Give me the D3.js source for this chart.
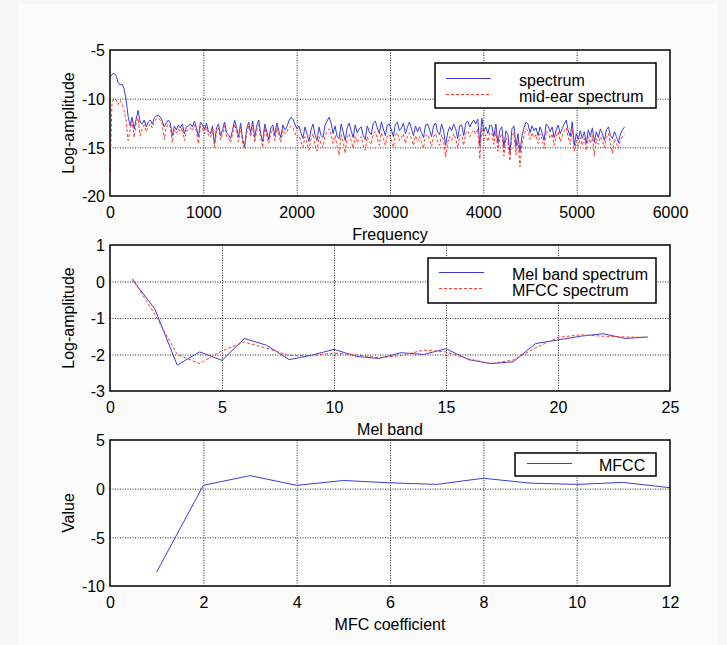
<!DOCTYPE html>
<html>
<head>
<meta charset="utf-8">
<script src="https://cdn.jsdelivr.net/npm/d3@7"></script>
<style>
  html, body { margin: 0; padding: 0; background: #f6f6f6; }
  svg { display: block; }
  text { font-family: "Liberation Sans", Arial, Helvetica, sans-serif; fill: #000; }
  .grid line { stroke: #222; stroke-width: 1; stroke-dasharray: 1,1.5; }
  .grid path { display: none; }
</style>
</head>
<body>
<svg id="fig" width="727" height="645"></svg>
<script>
// ---- Panel 1: spectrum and mid-ear spectrum (257 FFT bins, 0 .. 5512 Hz) ----
const fftBinHz = 11025 / 512;
const spectrum = [
  -7.8, -7.5, -7.4, -7.6, -8.3, -8.6, -8.5, -9.0, -10.1, -11.8,
  -12.8, -11.9, -13.1, -12.1, -11.2, -12.4, -12.6, -12.2, -12.9, -12.4,
  -12.2, -12.6, -12.0, -11.8, -11.7, -11.9, -12.3, -12.9, -12.5, -12.2,
  -12.5, -13.8, -12.8, -13.2, -12.7, -13.0, -12.6, -13.6, -12.9, -12.8,
  -12.6, -12.9, -12.3, -13.0, -13.9, -12.4, -12.7, -13.2, -12.5, -13.4,
  -13.6, -12.8, -14.6, -13.0, -12.6, -13.8, -13.2, -12.4, -13.5, -13.7,
  -14.1, -13.2, -12.2, -13.0, -13.9, -12.5, -14.2, -14.9, -13.1, -12.4,
  -13.5, -12.3, -14.0, -12.8, -12.2, -13.6, -14.4, -12.6, -13.4, -14.2,
  -13.0, -12.7, -13.8, -12.5, -13.3, -14.0, -12.7, -13.2, -12.9, -12.3,
  -11.9, -12.1, -12.6, -13.1, -12.8, -13.5, -14.1, -12.9, -13.6, -14.4,
  -13.2, -12.6, -13.7, -14.3, -12.9, -13.8, -14.0, -12.7, -12.3, -11.9,
  -12.5, -13.6, -12.8, -13.9, -14.1, -12.6, -13.4, -14.3, -13.0, -12.5,
  -13.3, -14.0, -12.7, -13.5, -13.1, -12.9, -13.8, -14.2, -12.8, -13.4,
  -13.7, -12.5, -12.3, -13.0, -13.6, -12.4, -13.1, -13.8, -12.7, -12.6,
  -13.2, -13.9, -12.6, -12.4, -13.3, -13.0, -12.5, -13.6, -12.9, -12.4,
  -13.1, -13.8, -12.8, -13.4, -12.9, -13.5, -14.0, -12.7, -12.6, -13.2,
  -13.9, -12.8, -12.5, -13.4, -13.7, -12.6, -13.3, -14.8, -13.5, -12.9,
  -13.3, -12.6, -13.1, -14.1, -12.8, -12.7, -13.8, -12.5, -12.3, -12.9,
  -12.5, -12.2, -12.6, -12.1, -14.8, -12.0, -13.4, -12.9, -13.6, -12.7,
  -12.8, -13.9, -12.6, -14.6, -13.2, -12.9, -15.0, -13.3, -13.7, -15.6,
  -13.1, -12.8, -14.9, -13.6, -15.5, -13.8, -13.0, -12.4, -12.6, -13.5,
  -12.8, -13.3, -13.0, -13.8, -12.9, -13.5, -14.3, -12.6, -12.8, -13.4,
  -12.9, -14.0, -13.2, -12.7, -13.6, -13.1, -12.6, -12.2, -13.3, -13.9,
  -12.4, -14.8, -13.6, -14.2, -13.3, -14.1, -13.4, -14.6, -13.2, -13.9,
  -13.0, -14.5, -13.4, -14.0, -13.1, -13.6, -14.3, -13.2, -12.9, -13.8,
  -14.1, -13.4, -13.9, -14.5, -13.6, -13.2, -12.9
];
const midEarSpectrum = [
  -17.5, -10.4, -10.0, -10.1, -10.6, -10.2, -10.5, -11.2, -12.3, -14.3,
  -13.2, -12.3, -14.0, -12.5, -12.0, -13.8, -13.1, -12.7, -13.4, -12.9,
  -12.6, -13.0, -12.4, -12.1, -12.0, -12.2, -12.6, -14.2, -13.0, -12.6,
  -12.9, -14.5, -13.2, -13.6, -13.1, -13.4, -13.0, -14.3, -13.3, -13.2,
  -13.0, -13.3, -12.7, -13.4, -14.6, -12.8, -13.1, -13.6, -12.9, -13.8,
  -14.0, -13.2, -15.0, -13.4, -13.0, -14.2, -13.6, -12.8, -13.9, -14.1,
  -14.5, -13.6, -12.6, -13.4, -14.4, -12.9, -14.6, -15.2, -13.5, -12.8,
  -13.9, -12.7, -14.5, -13.2, -12.7, -14.0, -15.0, -13.0, -13.8, -14.6,
  -13.5, -13.1, -14.3, -13.0, -13.7, -14.5, -13.2, -13.6, -13.4, -13.0,
  -12.8, -13.0, -13.5, -14.0, -13.8, -14.4, -15.0, -13.9, -14.5, -15.3,
  -14.2, -13.6, -14.7, -15.4, -13.9, -14.7, -15.0, -13.8, -13.4, -13.1,
  -13.6, -14.6, -13.8, -14.9, -15.8, -13.7, -14.4, -15.6, -14.0, -13.6,
  -14.3, -15.1, -13.8, -14.5, -14.1, -13.9, -14.8, -15.3, -13.9, -14.4,
  -14.7, -13.6, -13.4, -14.1, -14.8, -13.5, -14.1, -14.8, -13.8, -13.7,
  -14.2, -15.0, -13.7, -13.5, -14.3, -14.0, -13.6, -14.6, -13.9, -13.5,
  -14.1, -14.8, -13.8, -14.4, -13.9, -14.5, -15.1, -13.8, -13.7, -14.2,
  -14.9, -13.9, -13.6, -14.4, -14.8, -13.7, -14.3, -16.0, -14.5, -13.9,
  -14.3, -13.6, -14.1, -15.1, -13.8, -13.7, -14.8, -13.5, -13.3, -13.9,
  -13.5, -13.2, -13.6, -13.1, -16.2, -13.0, -14.2, -13.7, -14.4, -13.5,
  -13.5, -14.7, -13.3, -15.4, -14.0, -13.6, -15.9, -14.0, -14.5, -16.4,
  -13.8, -13.5, -15.8, -14.3, -17.0, -14.6, -13.8, -13.1, -13.3, -14.2,
  -13.5, -14.0, -13.7, -14.6, -13.6, -14.2, -15.1, -13.3, -13.5, -14.1,
  -13.6, -14.8, -13.9, -13.4, -14.4, -13.8, -13.3, -13.0, -14.0, -14.7,
  -13.1, -15.4, -14.3, -14.9, -14.0, -14.8, -14.1, -15.3, -13.9, -14.6,
  -13.8, -15.9, -14.1, -14.7, -13.9, -14.3, -15.0, -14.0, -13.6, -14.5,
  -15.6, -14.1, -14.6, -15.1, -14.2, -13.9, -13.7
];

// ---- Panel 2: Mel band spectrum vs. spectrum rebuilt from MFCCs ----
const melBands = d3.range(1, 25);
const melBandSpectrum = [0.05, -0.75, -2.29, -1.93, -2.16, -1.56, -1.75, -2.14, -2.02, -1.86, -2.05, -2.11,
                         -1.95, -2.00, -1.84, -2.14, -2.25, -2.20, -1.70, -1.60, -1.50, -1.43, -1.56, -1.52];
const mfccSpectrum    = [0.08, -0.90, -2.00, -2.25, -1.90, -1.66, -1.83, -2.03, -2.03, -1.96, -2.01, -2.09,
                         -2.03, -1.88, -1.93, -2.12, -2.25, -2.15, -1.82, -1.53, -1.46, -1.50, -1.52, -1.53];

// ---- Panel 3: MFCC values ----
const mfcIndex = d3.range(1, 13);
const mfcc = [-8.56, 0.34, 1.34, 0.34, 0.84, 0.60, 0.44, 1.07, 0.57, 0.44, 0.64, 0.10];

// tick values
const freqTicks = [0, 1000, 2000, 3000, 4000, 5000, 6000];
const ampTicks1 = [-20, -15, -10, -5];
const melTicks = [0, 5, 10, 15, 20, 25];
const ampTicks2 = [-3, -2, -1, 0, 1];
const mfcTicks = [0, 2, 4, 6, 8, 10, 12];
const valueTicks = [-10, -5, 0, 5];

const blue = "#3c3cd8";
const red = "#ff3a2a";

const svg = d3.select("#fig");
svg.append("rect").attr("x", 18).attr("y", 4).attr("width", 700).attr("height", 641).attr("fill", "#fbfbfb");

const L = 110, R = 670, H = 146;

function panel(cfg) {
  const g = svg.append("g");
  const x = d3.scaleLinear().domain(cfg.xDomain).range([L, R]);
  const y = d3.scaleLinear().domain(cfg.yDomain).range([cfg.top + H, cfg.top]);

  g.append("rect").attr("x", L).attr("y", cfg.top).attr("width", R - L).attr("height", H).attr("fill", "#fff");

  // dotted grid
  g.append("g").attr("class", "grid")
    .attr("transform", `translate(0,${cfg.top + H})`)
    .call(d3.axisBottom(x).tickValues(cfg.xTicks.slice(1, -1)).tickSize(-H).tickFormat(""));
  g.append("g").attr("class", "grid")
    .attr("transform", `translate(${L},0)`)
    .call(d3.axisLeft(y).tickValues(cfg.yTicks.slice(1, -1)).tickSize(-(R - L)).tickFormat(""));

  // tick labels via axes (lines hidden)
  const xa = g.append("g").attr("transform", `translate(0,${cfg.top + H})`)
    .call(d3.axisBottom(x).tickValues(cfg.xTicks).tickSize(0).tickPadding(0).tickFormat(d3.format("d")));
  xa.select(".domain").remove();
  xa.selectAll("text").attr("font-size", 16).attr("dy", null).attr("y", 22)
    .attr("font-family", '"Liberation Sans", Arial, sans-serif').attr("fill", "#000");

  const ya = g.append("g").attr("transform", `translate(${L},0)`)
    .call(d3.axisLeft(y).tickValues(cfg.yTicks).tickSize(0).tickPadding(0).tickFormat(d3.format("d")));
  ya.select(".domain").remove();
  ya.selectAll("text").attr("font-size", 16).attr("x", -5).attr("dy", "0.36em")
    .attr("font-family", '"Liberation Sans", Arial, sans-serif').attr("fill", "#000")
    .text(d => d < 0 ? "-" + Math.abs(d) : d);

  // series
  cfg.series.forEach(s => {
    g.append("path")
      .datum(s.xs.map((v, i) => [v, s.ys[i]]))
      .attr("fill", "none")
      .attr("stroke", s.color)
      .attr("stroke-width", 1)
      .attr("stroke-dasharray", s.dash || null)
      .attr("d", d3.line().x(d => x(d[0])).y(d => y(d[1])));
  });

  // axes box
  g.append("rect").attr("x", L).attr("y", cfg.top).attr("width", R - L).attr("height", H)
    .attr("fill", "none").attr("stroke", "#000").attr("stroke-width", 1.5);

  // axis titles
  g.append("text").attr("x", (L + R) / 2).attr("y", cfg.top + H + 44)
    .attr("text-anchor", "middle").attr("font-size", 16).text(cfg.xLabel);
  g.append("text").attr("transform", `translate(74,${cfg.top + H / 2}) rotate(-90)`)
    .attr("text-anchor", "middle").attr("font-size", 16).text(cfg.yLabel);

  // legend
  const lg = cfg.legend;
  g.append("rect").attr("x", lg.x0).attr("y", lg.y0).attr("width", lg.x1 - lg.x0).attr("height", lg.y1 - lg.y0)
    .attr("fill", "#fff").attr("stroke", "#000").attr("stroke-width", 1.5);
  lg.rows.forEach((r, i) => {
    const yy = lg.rowY[i];
    g.append("line").attr("x1", lg.sx0).attr("x2", lg.sx1).attr("y1", yy - 1.5).attr("y2", yy - 1.5)
      .attr("stroke", r.color).attr("stroke-width", 1).attr("stroke-dasharray", r.dash || null);
    g.append("text").attr("x", lg.tx).attr("y", yy + 5.5).attr("font-size", 16).text(r.label);
  });
}

const freqs = spectrum.map((_, i) => i * fftBinHz);

panel({
  top: 50,
  xDomain: [0, 6000], yDomain: [-20, -5],
  xTicks: freqTicks, yTicks: ampTicks1,
  xLabel: "Frequency", yLabel: "Log-amplitude",
  series: [
    { xs: freqs, ys: spectrum, color: blue },
    { xs: freqs, ys: midEarSpectrum, color: red, dash: "3,2" }
  ],
  legend: { x0: 435, x1: 656, y0: 63, y1: 108, sx0: 446, sx1: 491, tx: 519, rowY: [80, 96],
    rows: [{ label: "spectrum", color: blue }, { label: "mid-ear spectrum", color: red, dash: "3,2" }] }
});

panel({
  top: 245,
  xDomain: [0, 25], yDomain: [-3, 1],
  xTicks: melTicks, yTicks: ampTicks2,
  xLabel: "Mel band", yLabel: "Log-amplitude",
  series: [
    { xs: melBands, ys: melBandSpectrum, color: blue },
    { xs: melBands, ys: mfccSpectrum, color: red, dash: "3,2" }
  ],
  legend: { x0: 428, x1: 656, y0: 258, y1: 303, sx0: 439, sx1: 484, tx: 512, rowY: [274, 290],
    rows: [{ label: "Mel band spectrum", color: blue }, { label: "MFCC spectrum", color: red, dash: "3,2" }] }
});

panel({
  top: 440,
  xDomain: [0, 12], yDomain: [-10, 5],
  xTicks: mfcTicks, yTicks: valueTicks,
  xLabel: "MFC coefficient", yLabel: "Value",
  series: [
    { xs: mfcIndex, ys: mfcc, color: blue }
  ],
  legend: { x0: 515, x1: 656, y0: 453, y1: 476, sx0: 527, sx1: 572, tx: 599, rowY: [465],
    rows: [{ label: "MFCC", color: blue }] }
});
</script>
</body>
</html>
